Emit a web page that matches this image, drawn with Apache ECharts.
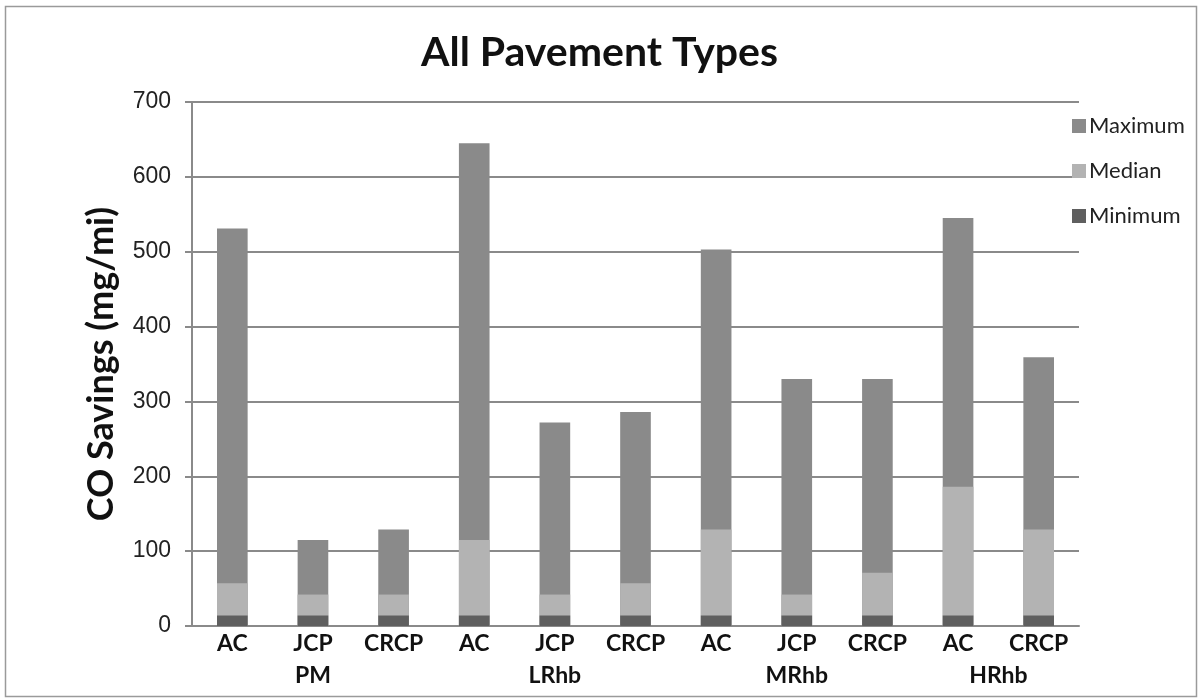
<!DOCTYPE html>
<html>
<head>
<meta charset="utf-8">
<script src="https://cdn.jsdelivr.net/npm/echarts@6/dist/echarts.min.js"></script>
<style>
html,body{margin:0;padding:0;background:#fff;}
#chart{width:1199px;height:698px;}
</style>
</head>
<body>
<div id="chart"></div>
<script>
// ---- data ----
var categories = ['AC', 'JCP', 'CRCP', 'AC', 'JCP', 'CRCP', 'AC', 'JCP', 'CRCP', 'AC', 'CRCP'];
var groupNames = ['PM', 'LRhb', 'MRhb', 'HRhb'];
var groupCenters = [1, 4, 7, 9.5];
var maximumValues = [531, 115, 129, 645, 272, 286, 503, 330, 330, 545, 359];
var medianValues = [57, 42, 42, 115, 42, 57, 129, 42, 71, 186, 129];
var minimumValues = [14, 14, 14, 14, 14, 14, 14, 14, 14, 14, 14];
var yTicks = [0, 100, 200, 300, 400, 500, 600, 700];

var gridColor = '#8a8a8a';
var chart = echarts.init(document.getElementById('chart'), null, {renderer: 'canvas'});

var option = {
  backgroundColor: '#ffffff',
  animation: false,
  title: {
    text: 'All Pavement Types',
    left: 'center',
    top: 27,
    textStyle: {fontFamily: 'Lato', fontWeight: 'bold', fontSize: 41, color: '#111'}
  },
  legend: {
    orient: 'vertical',
    left: 1067,
    top: 110,
    itemWidth: 14,
    itemHeight: 14,
    itemGap: 23,
    icon: 'rect',
    data: ['Maximum', 'Median', 'Minimum'],
    textStyle: {fontFamily: 'Lato', fontSize: 22, color: '#222', lineHeight: 21, padding: [0,0,0,-2]}
  },
  grid: {left: 192, right: 120, top: 102, bottom: 72, containLabel: false},
  xAxis: [
    {
      type: 'category',
      data: categories,
      axisLine: {show: true, lineStyle: {color: gridColor, width: 2}},
      axisTick: {show: false},
      axisLabel: {fontFamily: 'Lato', fontWeight: 'bold', fontSize: 23, color: '#111', margin: 6}
    },
    {
      type: 'value',
      min: -0.5,
      max: 10.5,
      position: 'bottom',
      axisLine: {show: false},
      axisTick: {show: false},
      splitLine: {show: false},
      axisLabel: {
        customValues: groupCenters,
        fontFamily: 'Lato', fontWeight: 'bold', fontSize: 23, color: '#111', margin: 38,
        formatter: function (v) {
          var i = groupCenters.indexOf(v);
          return i >= 0 ? groupNames[i] : '';
        }
      }
    }
  ],
  yAxis: {
    type: 'value',
    min: yTicks[0],
    max: yTicks[yTicks.length - 1],
    interval: 100,
    name: 'CO Savings (mg/mi)',
    nameLocation: 'middle',
    nameGap: 73,
    nameTextStyle: {fontFamily: 'Lato', fontWeight: 'bold', fontSize: 36, color: '#111'},
    axisLine: {show: true, onZero: false, lineStyle: {color: gridColor, width: 2}},
    axisTick: {show: true, inside: false, length: 7, lineStyle: {color: gridColor, width: 2}},
    axisLabel: {fontFamily: 'Liberation Sans', fontSize: 23, color: '#222', margin: 21},
    splitLine: {show: true, lineStyle: {color: gridColor, width: 2}}
  },
  series: [
    {name: 'Maximum', type: 'bar', data: maximumValues, barWidth: '38%', barGap: '-100%',
     itemStyle: {color: '#8a8a8a'}, xAxisIndex: 0},
    {name: 'Median', type: 'bar', data: medianValues, barWidth: '38%', barGap: '-100%',
     itemStyle: {color: '#b3b3b3'}, xAxisIndex: 0},
    {name: 'Minimum', type: 'bar', data: minimumValues, barWidth: '38%', barGap: '-100%',
     itemStyle: {color: '#5f5f5f'}, xAxisIndex: 0}
  ],
  graphic: [{
    type: 'rect',
    shape: {x: 5.5, y: 6.5, width: 1191, height: 690},
    style: {fill: 'none', stroke: '#9a9a9a', lineWidth: 1.5},
    silent: true
  }]
};
chart.setOption(option);
</script>
</body>
</html>
